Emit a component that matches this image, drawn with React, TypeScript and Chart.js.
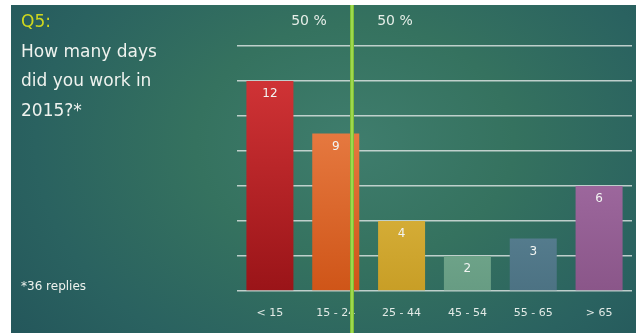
import React, { useEffect, useRef } from "react";
import { Chart, registerables } from "chart.js";

Chart.register(...registerables);

const categories = ["< 15", "15 - 24", "25 - 44", "45 - 54", "55 - 65", "> 65"];
const replies = [12, 9, 4, 2, 3, 6];
const barTopColors = ["#d8383a", "#f28c55", "#f2cf5e", "#92c8a8", "#729db0", "#b47db6"];
const barBottomColors = ["#9a1418", "#cf5518", "#c89e26", "#679c83", "#4c7283", "#8a5689"];
const titleLines = ["How many days", "did you work in", "2015?*"];
const questionLabel = "Q5:";
const footnote = "*36 replies";
const medianLabels = ["50 %", "50 %"];
const yMax = 14;
const yStep = 2;

const FONT = "'DejaVu Sans', 'Noto Sans', sans-serif";

export default function App() {
  const ref = useRef<HTMLCanvasElement | null>(null);

  useEffect(() => {
    if (!ref.current) return;

    const overlay = {
      id: "overlay",
      afterDatasetsDraw(chart: any) {
        const ctx = chart.ctx;
        const meta = chart.getDatasetMeta(0);
        ctx.save();
        ctx.fillStyle = "#f2f4f2";
        ctx.font = `12px ${FONT}`;
        ctx.textAlign = "center";
        ctx.textBaseline = "middle";
        meta.data.forEach((bar: any, i: number) => {
          ctx.fillText(String(replies[i]), bar.x, bar.y + 13);
        });
        ctx.restore();
      },
      afterDraw(chart: any) {
        const ctx = chart.ctx;
        ctx.save();
        ctx.fillStyle = "#7fbf35";
        ctx.fillRect(350, 5, 4, 328);
        ctx.fillStyle = "#9ed84e";
        ctx.fillRect(351, 5, 2, 328);
        ctx.fillStyle = "#e6eee8";
        ctx.font = `14px ${FONT}`;
        ctx.textAlign = "center";
        ctx.textBaseline = "alphabetic";
        ctx.fillText(medianLabels[0], 309, 25);
        ctx.fillText(medianLabels[1], 395, 25);
        ctx.textAlign = "left";
        ctx.font = `17px ${FONT}`;
        ctx.fillStyle = "#cfd81e";
        ctx.fillText(questionLabel, 21, 27);
        ctx.fillStyle = "#eef2ee";
        const baselines = [57, 86, 116];
        titleLines.forEach((t, i) => ctx.fillText(t, 21, baselines[i]));
        ctx.font = `12px ${FONT}`;
        ctx.fillText(footnote, 21, 290);
        ctx.restore();
      },
    };

    const chart = new Chart(ref.current, {
      type: "bar",
      data: {
        labels: categories,
        datasets: [
          {
            data: replies,
            backgroundColor: (c: any) => {
              const area = c.chart.chartArea;
              if (!area) return barTopColors[c.dataIndex];
              const el = c.element;
              const top = el && typeof el.y === "number" ? el.y : area.top;
              const g = c.chart.ctx.createLinearGradient(0, top, 0, area.bottom);
              g.addColorStop(0, barTopColors[c.dataIndex]);
              g.addColorStop(1, barBottomColors[c.dataIndex]);
              return g;
            },
            borderWidth: 0,
            barPercentage: 0.714,
            categoryPercentage: 1,
          },
        ],
      },
      options: {
        animation: false,
        responsive: false,
        maintainAspectRatio: false,
        layout: { padding: { left: 237, right: 4, top: 46, bottom: 0 } },
        plugins: { legend: { display: false }, tooltip: { enabled: false } },
        scales: {
          x: {
            grid: { display: false },
            border: { display: false },
            ticks: {
              color: "#e2eae6",
              font: { family: FONT, size: 11 },
              padding: 8,
              maxRotation: 0,
            },
            afterFit: (s: any) => {
              s.height = 42;
            },
          },
          y: {
            min: 0,
            max: yMax,
            ticks: { display: false, stepSize: yStep },
            border: { display: false },
            grid: { color: "rgba(215,225,222,0.85)", lineWidth: 1.6, drawTicks: false },
            afterFit: (s: any) => {
              s.width = 0;
            },
          },
        },
      },
      plugins: [overlay],
    } as any);

    return () => chart.destroy();
  }, []);

  return (
    <div
      style={{
        position: "fixed",
        left: 0,
        top: 0,
        width: 636,
        height: 333,
        background: "#ffffff",
        overflow: "hidden",
      }}
    >
      <div
        style={{
          position: "absolute",
          left: 11,
          top: 5,
          width: 625,
          height: 328,
          background:
            "radial-gradient(ellipse 85% 120% at 55% 42%, #3f7d6d 0%, #35725f 30%, #2a6260 60%, #1e4c56 100%)",
        }}
      />
      <canvas
        ref={ref}
        width={636}
        height={333}
        style={{ position: "absolute", left: 0, top: 0, width: 636, height: 333 }}
      />
    </div>
  );
}
